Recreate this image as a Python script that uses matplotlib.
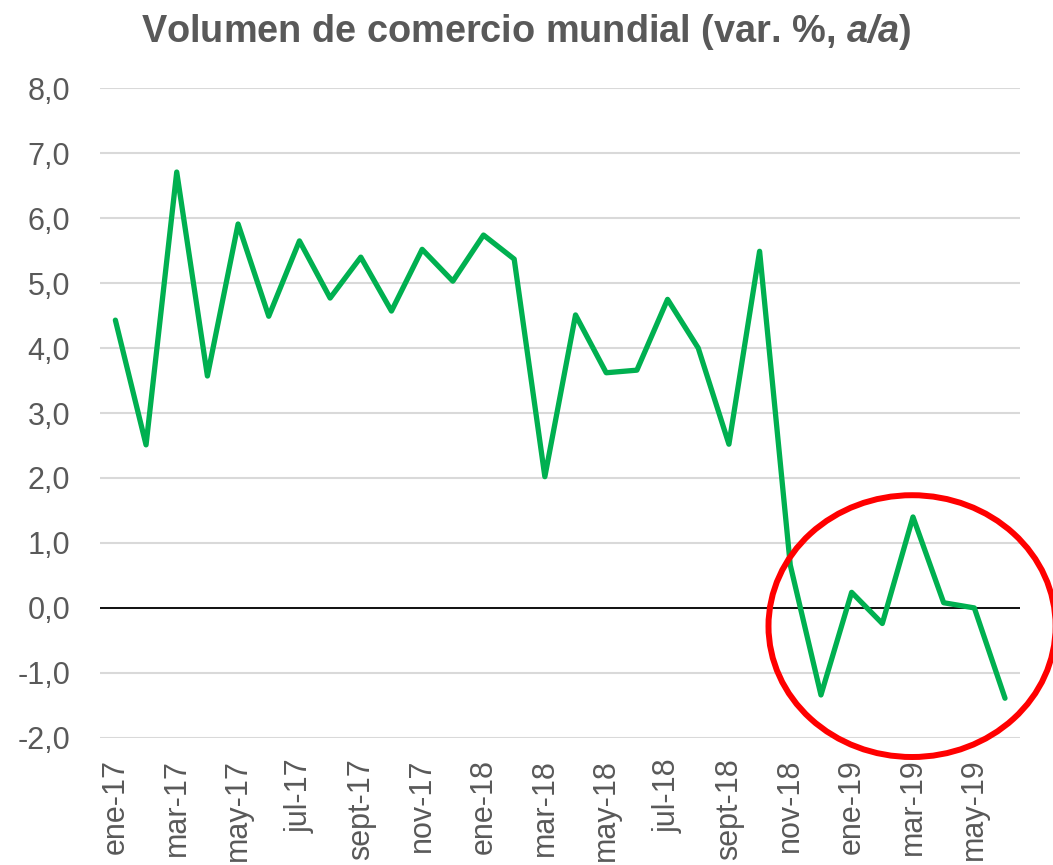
import numpy as np
import matplotlib
matplotlib.use("Agg")
import matplotlib.pyplot as plt
from matplotlib.patches import Ellipse

plt.rcParams['font.family'] = ['Liberation Sans', 'DejaVu Sans']
plt.rcParams['mathtext.fontset'] = 'custom'
plt.rcParams['mathtext.bfit'] = 'Liberation Sans:bold:italic'

# datos
meses = ['ene', 'feb', 'mar', 'abr', 'may', 'jun', 'jul', 'ago', 'sept', 'oct', 'nov', 'dic']
anios = ['17', '18', '19']
etiquetas = [m + '-' + a for a in anios for m in meses][:30]

volumen = [4.43, 2.51, 6.71, 3.57, 5.91, 4.49, 5.65, 4.77, 5.40, 4.57, 5.52, 5.03,
           5.74, 5.37, 2.02, 4.51, 3.62, 3.66, 4.75, 4.00, 2.52, 5.49, 0.66, -1.34,
           0.24, -0.24, 1.40, 0.08, 0.00, -1.39]

gris = '#595959'

fig = plt.figure(figsize=(10.53, 8.65), dpi=100)
ax = fig.add_axes([0.095, 0.147, 0.874, 0.751])

x = np.arange(len(volumen))
ax.plot(x, volumen, color='#00b050', lw=3.8, solid_joinstyle='round', solid_capstyle='round', zorder=3)
ax.axhline(0, color='black', lw=1.3, zorder=2)

# circulo rojo sobre el ultimo tramo
ell = Ellipse((25.97, -0.28), 9.36, 4.03, fill=False, edgecolor='#ff0000', lw=4.3,
              clip_on=False, zorder=4)
ax.add_patch(ell)

ax.set_xlim(-0.5, 29.5)
ax.set_ylim(-2, 8)
ax.set_yticks(np.arange(-2, 9, 1))
ax.set_yticklabels([('%.1f' % v).replace('.', ',') for v in np.arange(-2, 9, 1)])
ax.set_xticks(x[::2])
ax.set_xticklabels(etiquetas[::2], rotation=90)
ax.yaxis.grid(True, color='#d9d9d9', lw=1.5)
ax.set_axisbelow(True)
ax.tick_params(axis='both', length=0, labelsize=22, labelcolor=gris)
ax.tick_params(axis='y', pad=21.5)
ax.tick_params(axis='x', pad=15)
for s in ax.spines.values():
    s.set_visible(False)

fig.text(0.5, 0.963, r'Volumen de comercio mundial (var. %, $\mathbfit{a/a}$)',
         ha='center', va='center', fontsize=27.3, fontweight='bold', color=gris)

fig.savefig('out.png', dpi=100)
